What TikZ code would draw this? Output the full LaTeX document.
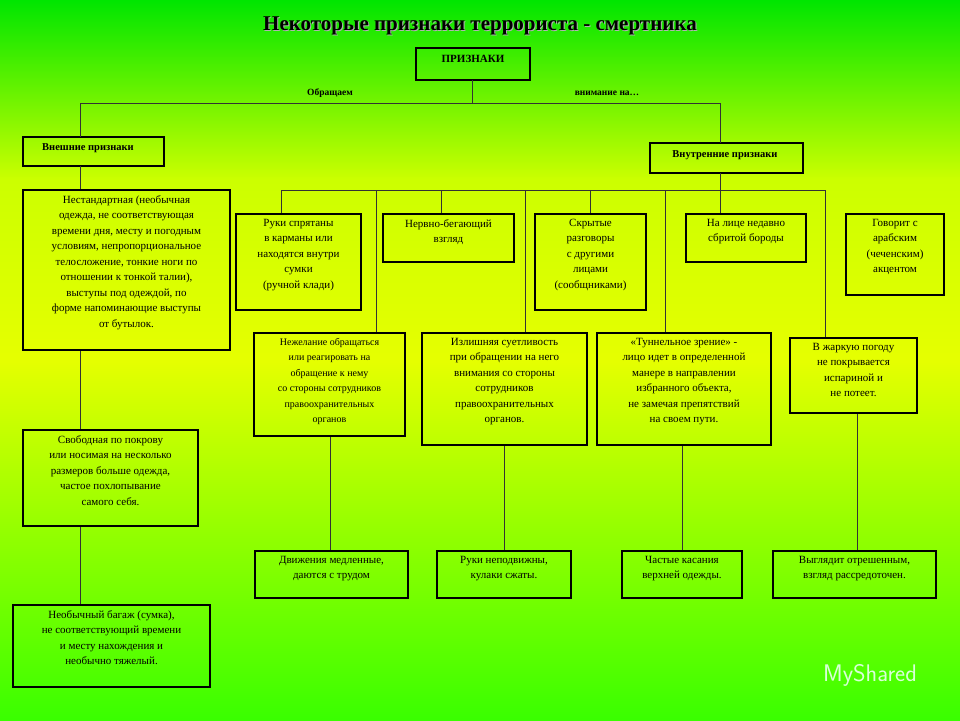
\documentclass[tikz,border=0pt]{standalone}
\usepackage{fontspec}
\setmainfont{Liberation Serif}
\begin{document}
\begin{tikzpicture}[x=1pt,y=-1pt,
  bx/.style={draw=black,line width=2.2pt},
  tx/.style={align=center,font=\fontsize{11}{15.5}\selectfont,inner sep=0pt,anchor=north},
  ln/.style={draw=black!80,line width=0.8pt}]
\shade[top color=green!75!black!40!green, bottom color=yellow!90!green, middle color=yellow!80!green,shading angle=0] (0,0) rectangle (960,360);
\fill[top color=yellow!90!green,bottom color=green!70!lime] (0,360) rectangle (960,720);
\useasboundingbox (0,0) rectangle (960,720);
\node[font=\bfseries\fontsize{21}{22}\selectfont,text=black!30] at (481,27) {Некоторые признаки террориста - смертника};
\node (t) [font=\bfseries\fontsize{21}{22}\selectfont] at (480,26) {Некоторые признаки террориста - смертника};
\newcommand{\bxn}[6]{\draw[bx] (#2,#3) rectangle (#4,#5); \node (#1) [tx] at ({(#2+#4)/2},{#3+5}) {#6};}
\draw[bx] (416,48) rectangle (530,80); \node[tx,font=\bfseries\fontsize{11}{12}\selectfont] at (473,55) {ПРИЗНАКИ};
\draw[bx] (23,137) rectangle (164,166); \node[tx,font=\bfseries\fontsize{10.5}{12}\selectfont] at (88,143) {Внешние признаки};
\draw[bx] (650,143) rectangle (803,173); \node[tx,font=\bfseries\fontsize{10.5}{12}\selectfont] at (725,150) {Внутренние признаки};
\node[font=\bfseries\fontsize{9.5}{10}\selectfont] at (330,93) {Обращаем};
\node[font=\bfseries\fontsize{9.5}{10}\selectfont] at (607,93) {внимание на…};
\draw[ln] (472,80)--(472,103) (80,103)--(720,103) (80,103)--(80,137) (720,103)--(720,143);
\draw[ln] (80,166)--(80,190) (80,350)--(80,430) (80,526)--(80,605);
\draw[ln] (720,173)--(720,190) (281,190)--(825,190);
\draw[ln] (281,190)--(281,214) (441,190)--(441,214) (590,190)--(590,214) (720,190)--(720,214) (825,190)--(825,338);
\draw[ln] (376,190)--(376,333) (525,190)--(525,333) (665,190)--(665,333);
\draw[ln] (330,436)--(330,551) (504,445)--(504,551) (682,445)--(682,551) (857,413)--(857,551);
\bxn{a1}{23}{190}{230}{350}{Нестандартная (необычная\\одежда, не соответствующая\\времени дня, месту и погодным\\условиям, непропорциональное\\телосложение, тонкие ноги по\\отношении к тонкой талии),\\выступы под одеждой, по\\форме напоминающие выступы\\от бутылок.}
\bxn{a2}{23}{430}{198}{526}{Свободная по покрову\\или носимая на несколько\\размеров больше одежда,\\частое похлопывание\\самого себя.}
\bxn{a3}{13}{605}{210}{687}{Необычный багаж (сумка),\\не соответствующий времени\\и месту нахождения и\\необычно тяжелый.}
\bxn{b1}{236}{214}{361}{310}{Руки спрятаны\\в карманы или\\находятся внутри\\сумки\\(ручной клади)}
\bxn{b2}{383}{214}{514}{262}{Нервно-бегающий\\взгляд}
\bxn{b3}{535}{214}{646}{310}{Скрытые\\разговоры\\с другими\\лицами\\(сообщниками)}
\bxn{b4}{686}{214}{806}{262}{На лице недавно\\сбритой бороды}
\bxn{b5}{846}{214}{944}{295}{Говорит с\\арабским\\(чеченским)\\акцентом}
\bxn{c1}{254}{333}{405}{436}{\fontsize{10}{14}\selectfont Нежелание обращаться\\\fontsize{10}{14}\selectfont или реагировать на\\\fontsize{10}{14}\selectfont обращение к нему\\\fontsize{10}{14}\selectfont со стороны сотрудников\\\fontsize{10}{14}\selectfont правоохранительных\\\fontsize{10}{14}\selectfont органов}
\bxn{c2}{422}{333}{587}{445}{Излишняя суетливость\\при обращении на него\\внимания со стороны\\сотрудников\\правоохранительных\\органов.}
\bxn{c3}{597}{333}{771}{445}{«Туннельное зрение» -\\лицо идет в определенной\\манере в направлении\\избранного объекта,\\не замечая препятствий\\на своем пути.}
\bxn{c4}{790}{338}{917}{413}{В жаркую погоду\\не покрывается\\испариной и\\не потеет.}
\bxn{d1}{255}{551}{408}{598}{Движения медленные,\\даются с трудом}
\bxn{d2}{437}{551}{571}{598}{Руки неподвижны,\\кулаки сжаты.}
\bxn{d3}{622}{551}{742}{598}{Частые касания\\верхней одежды.}
\bxn{d4}{773}{551}{936}{598}{Выглядит отрешенным,\\взгляд рассредоточен.}
\node[text=white!85!green,font=\sffamily\fontsize{24}{26}\selectfont] at (870,675) {MyShared};
\end{tikzpicture}
\end{document}
